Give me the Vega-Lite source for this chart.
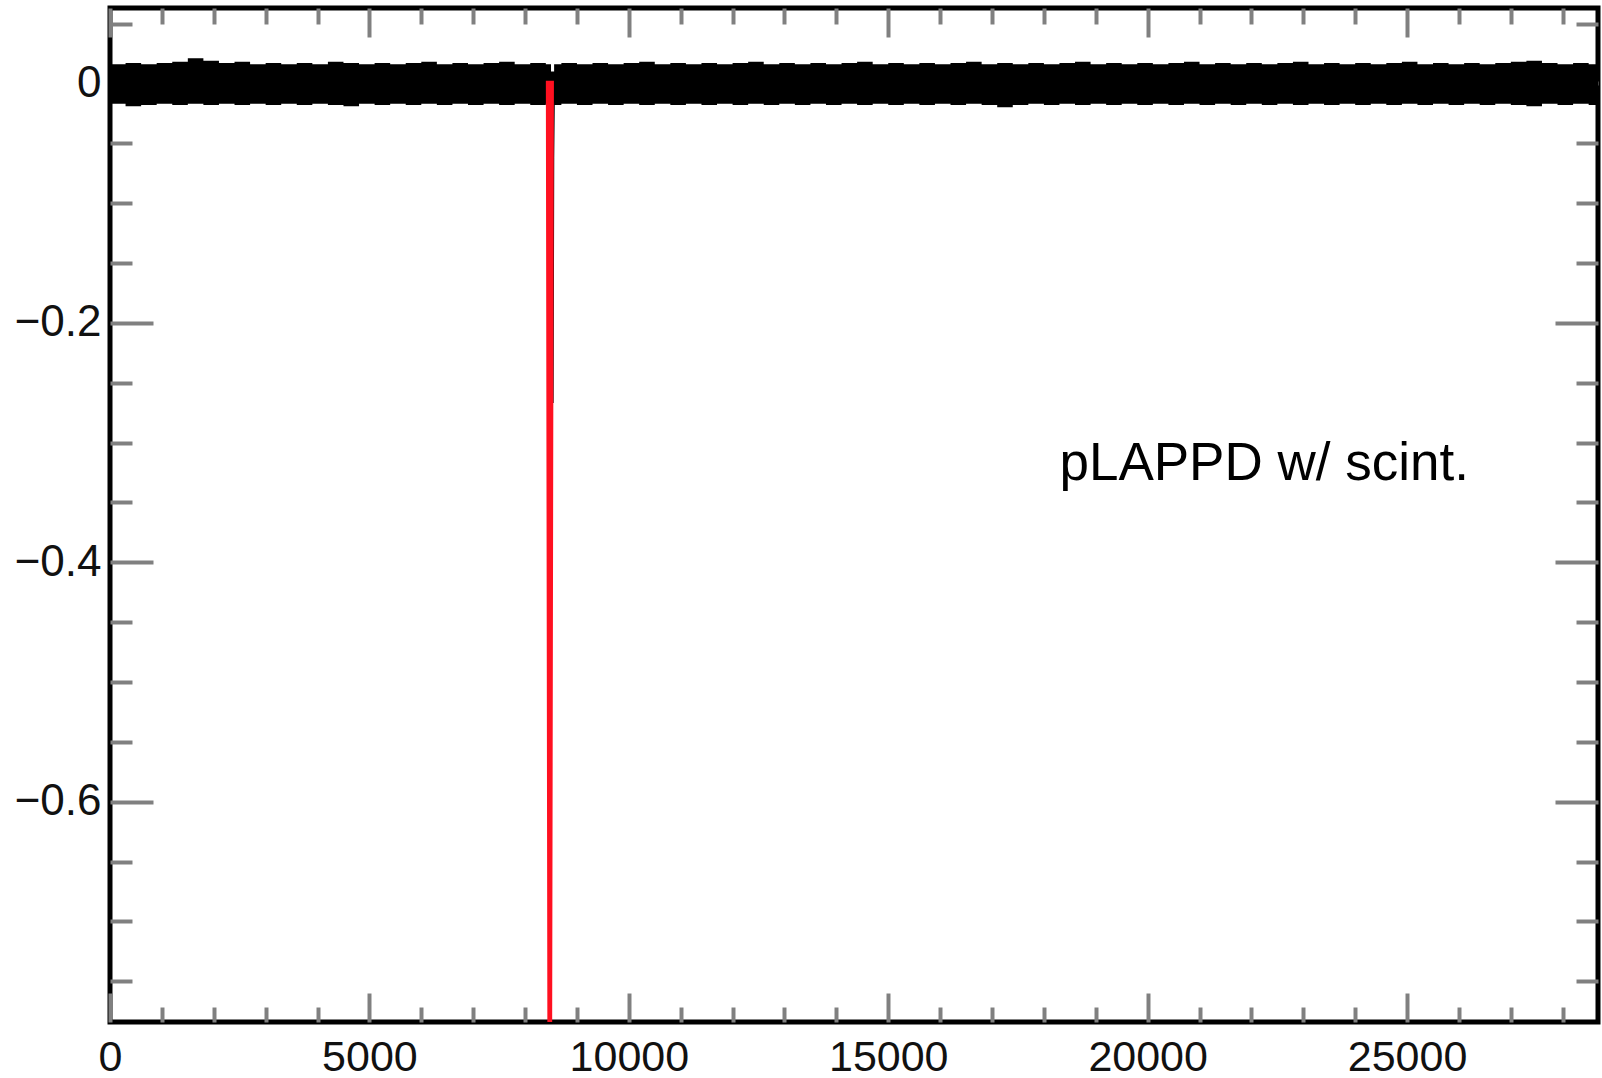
{
  "$schema": "https://vega.github.io/schema/vega-lite/v6.json",
  "autosize": {"type": "none"},
  "padding": {"left": 110, "top": 8, "right": 4, "bottom": 56},
  "width": 1488,
  "height": 1014,
  "background": "white",
  "config": {
    "view": {"stroke": "black", "strokeWidth": 5},
    "axis": {"grid": false, "domain": false, "title": null, "tickColor": "#808080", "tickWidth": 4, "labelFont": "Liberation Sans", "labelFontSize": 43, "labelColor": "#111111", "labelFlush": false, "labelOverlap": false}
  },
  "datasets": {
    "band": [
      {"t": 0, "hi": 0.016, "lo": -0.017}, {"t": 300, "hi": 0.017, "lo": -0.019}, {"t": 600, "hi": 0.016, "lo": -0.018},
      {"t": 900, "hi": 0.017, "lo": -0.017}, {"t": 1200, "hi": 0.018, "lo": -0.018}, {"t": 1500, "hi": 0.021, "lo": -0.017},
      {"t": 1800, "hi": 0.019, "lo": -0.018}, {"t": 2100, "hi": 0.017, "lo": -0.017}, {"t": 2400, "hi": 0.018, "lo": -0.018},
      {"t": 2700, "hi": 0.016, "lo": -0.017}, {"t": 3000, "hi": 0.017, "lo": -0.018}, {"t": 3300, "hi": 0.016, "lo": -0.017},
      {"t": 3600, "hi": 0.017, "lo": -0.018}, {"t": 3900, "hi": 0.016, "lo": -0.017}, {"t": 4200, "hi": 0.018, "lo": -0.018},
      {"t": 4500, "hi": 0.017, "lo": -0.019}, {"t": 4800, "hi": 0.016, "lo": -0.017}, {"t": 5100, "hi": 0.017, "lo": -0.018},
      {"t": 5400, "hi": 0.016, "lo": -0.017}, {"t": 5700, "hi": 0.017, "lo": -0.018}, {"t": 6000, "hi": 0.018, "lo": -0.017},
      {"t": 6300, "hi": 0.016, "lo": -0.018}, {"t": 6600, "hi": 0.017, "lo": -0.017}, {"t": 6900, "hi": 0.016, "lo": -0.018},
      {"t": 7200, "hi": 0.017, "lo": -0.017}, {"t": 7500, "hi": 0.018, "lo": -0.018}, {"t": 7800, "hi": 0.016, "lo": -0.017},
      {"t": 8100, "hi": 0.017, "lo": -0.018}, {"t": 8400, "hi": 0.016, "lo": -0.017}, {"t": 8500, "hi": 0.010, "lo": -0.016},
      {"t": 8560, "hi": 0.016, "lo": -0.018}, {"t": 8700, "hi": 0.017, "lo": -0.017}, {"t": 9000, "hi": 0.016, "lo": -0.018},
      {"t": 9300, "hi": 0.017, "lo": -0.017}, {"t": 9600, "hi": 0.016, "lo": -0.018}, {"t": 9900, "hi": 0.017, "lo": -0.017},
      {"t": 10200, "hi": 0.018, "lo": -0.018}, {"t": 10500, "hi": 0.016, "lo": -0.017}, {"t": 10800, "hi": 0.017, "lo": -0.018},
      {"t": 11100, "hi": 0.016, "lo": -0.017}, {"t": 11400, "hi": 0.017, "lo": -0.018}, {"t": 11700, "hi": 0.016, "lo": -0.017},
      {"t": 12000, "hi": 0.017, "lo": -0.018}, {"t": 12300, "hi": 0.018, "lo": -0.017}, {"t": 12600, "hi": 0.016, "lo": -0.018},
      {"t": 12900, "hi": 0.017, "lo": -0.017}, {"t": 13200, "hi": 0.016, "lo": -0.018}, {"t": 13500, "hi": 0.017, "lo": -0.017},
      {"t": 13800, "hi": 0.016, "lo": -0.018}, {"t": 14100, "hi": 0.017, "lo": -0.017}, {"t": 14400, "hi": 0.018, "lo": -0.018},
      {"t": 14700, "hi": 0.016, "lo": -0.017}, {"t": 15000, "hi": 0.017, "lo": -0.018}, {"t": 15300, "hi": 0.016, "lo": -0.017},
      {"t": 15600, "hi": 0.017, "lo": -0.018}, {"t": 15900, "hi": 0.016, "lo": -0.017}, {"t": 16200, "hi": 0.017, "lo": -0.018},
      {"t": 16500, "hi": 0.018, "lo": -0.017}, {"t": 16800, "hi": 0.016, "lo": -0.018}, {"t": 17100, "hi": 0.017, "lo": -0.020},
      {"t": 17400, "hi": 0.016, "lo": -0.018}, {"t": 17700, "hi": 0.017, "lo": -0.017}, {"t": 18000, "hi": 0.016, "lo": -0.018},
      {"t": 18300, "hi": 0.017, "lo": -0.017}, {"t": 18600, "hi": 0.018, "lo": -0.018}, {"t": 18900, "hi": 0.016, "lo": -0.017},
      {"t": 19200, "hi": 0.017, "lo": -0.018}, {"t": 19500, "hi": 0.016, "lo": -0.017}, {"t": 19800, "hi": 0.017, "lo": -0.018},
      {"t": 20100, "hi": 0.016, "lo": -0.017}, {"t": 20400, "hi": 0.017, "lo": -0.018}, {"t": 20700, "hi": 0.018, "lo": -0.017},
      {"t": 21000, "hi": 0.016, "lo": -0.018}, {"t": 21300, "hi": 0.017, "lo": -0.017}, {"t": 21600, "hi": 0.016, "lo": -0.018},
      {"t": 21900, "hi": 0.017, "lo": -0.017}, {"t": 22200, "hi": 0.016, "lo": -0.018}, {"t": 22500, "hi": 0.017, "lo": -0.017},
      {"t": 22800, "hi": 0.018, "lo": -0.018}, {"t": 23100, "hi": 0.016, "lo": -0.017}, {"t": 23400, "hi": 0.017, "lo": -0.018},
      {"t": 23700, "hi": 0.016, "lo": -0.017}, {"t": 24000, "hi": 0.017, "lo": -0.018}, {"t": 24300, "hi": 0.016, "lo": -0.017},
      {"t": 24600, "hi": 0.017, "lo": -0.018}, {"t": 24900, "hi": 0.018, "lo": -0.017}, {"t": 25200, "hi": 0.016, "lo": -0.018},
      {"t": 25500, "hi": 0.017, "lo": -0.017}, {"t": 25800, "hi": 0.016, "lo": -0.018}, {"t": 26100, "hi": 0.017, "lo": -0.017},
      {"t": 26400, "hi": 0.016, "lo": -0.018}, {"t": 26700, "hi": 0.017, "lo": -0.017}, {"t": 27000, "hi": 0.018, "lo": -0.018},
      {"t": 27300, "hi": 0.019, "lo": -0.019}, {"t": 27600, "hi": 0.017, "lo": -0.017}, {"t": 27900, "hi": 0.016, "lo": -0.018},
      {"t": 28200, "hi": 0.017, "lo": -0.017}, {"t": 28500, "hi": 0.016, "lo": -0.018}, {"t": 28680, "hi": 0.016, "lo": -0.018}
    ],
    "spike": [
      {"t": 8512, "v": -0.005, "k": 0}, {"t": 8522, "v": -0.267, "k": 1}, {"t": 8534, "v": -0.062, "k": 2}, {"t": 8545, "v": -0.012, "k": 3}
    ],
    "fit": [
      {"t": 8444, "v": 0.0023, "k": 0}, {"t": 8476, "v": -0.86, "k": 1}, {"t": 8513, "v": 0.0023, "k": 2}
    ],
    "note": [
      {"t": 18300, "v": -0.3315, "label": "pLAPPD w/ scint."}
    ]
  },
  "resolve": {"axis": {"x": "independent", "y": "independent"}},
  "layer": [
    {
      "data": {"name": "band"},
      "mark": {"type": "area", "interpolate": "step-after", "color": "black", "clip": true},
      "encoding": {
        "x": {"field": "t", "type": "quantitative", "scale": {"domain": [0, 28680], "nice": false, "zero": false},
              "axis": {"orient": "bottom", "values": [0, 5000, 10000, 15000, 20000, 25000], "tickSize": -29, "labelPadding": 43, "format": "d"}},
        "y": {"field": "hi", "type": "quantitative", "scale": {"domain": [-0.784, 0.063], "nice": false, "zero": false},
              "axis": {"orient": "left", "values": [0, -0.2, -0.4, -0.6], "tickSize": -43, "labelPadding": 52, "format": "~g", "labelFontSize": 44}},
        "y2": {"field": "lo"}
      }
    },
    {
      "data": {"name": "spike"},
      "mark": {"type": "line", "color": "black", "strokeWidth": 3, "clip": true},
      "encoding": {
        "x": {"field": "t", "type": "quantitative", "scale": {"domain": [0, 28680], "nice": false, "zero": false},
              "axis": {"orient": "top", "values": [1000, 2000, 3000, 4000, 6000, 7000, 8000, 9000, 11000, 12000, 13000, 14000, 16000, 17000, 18000, 19000, 21000, 22000, 23000, 24000, 26000, 27000, 28000], "tickSize": -16, "labels": false}},
        "y": {"field": "v", "type": "quantitative", "scale": {"domain": [-0.784, 0.063], "nice": false, "zero": false},
              "axis": {"orient": "right", "values": [0.05, -0.05, -0.1, -0.15, -0.25, -0.3, -0.35, -0.45, -0.5, -0.55, -0.65, -0.7, -0.75], "tickSize": -22, "labels": false}},
        "order": {"field": "k"}
      }
    },
    {
      "data": {"name": "fit"},
      "mark": {"type": "line", "color": "#ff1020", "strokeWidth": 4.5, "strokeCap": "butt", "clip": true},
      "encoding": {
        "x": {"field": "t", "type": "quantitative", "scale": {"domain": [0, 28680], "nice": false, "zero": false},
              "axis": {"orient": "bottom", "values": [1000, 2000, 3000, 4000, 6000, 7000, 8000, 9000, 11000, 12000, 13000, 14000, 16000, 17000, 18000, 19000, 21000, 22000, 23000, 24000, 26000, 27000, 28000], "tickSize": -15, "labels": false}},
        "y": {"field": "v", "type": "quantitative", "scale": {"domain": [-0.784, 0.063], "nice": false, "zero": false},
              "axis": {"orient": "left", "values": [0.05, -0.05, -0.1, -0.15, -0.25, -0.3, -0.35, -0.45, -0.5, -0.55, -0.65, -0.7, -0.75], "tickSize": -22, "labels": false}},
        "order": {"field": "k"}
      }
    },
    {
      "data": {"name": "note"},
      "mark": {"type": "text", "align": "left", "baseline": "alphabetic", "font": "Liberation Sans", "fontSize": 53, "color": "black"},
      "encoding": {
        "x": {"field": "t", "type": "quantitative", "scale": {"domain": [0, 28680], "nice": false, "zero": false},
              "axis": {"orient": "top", "values": [0, 5000, 10000, 15000, 20000, 25000], "tickSize": -29, "labels": false}},
        "y": {"field": "v", "type": "quantitative", "scale": {"domain": [-0.784, 0.063], "nice": false, "zero": false},
              "axis": {"orient": "right", "values": [0, -0.2, -0.4, -0.6], "tickSize": -43, "labels": false}},
        "text": {"field": "label"}
      }
    }
  ]
}
